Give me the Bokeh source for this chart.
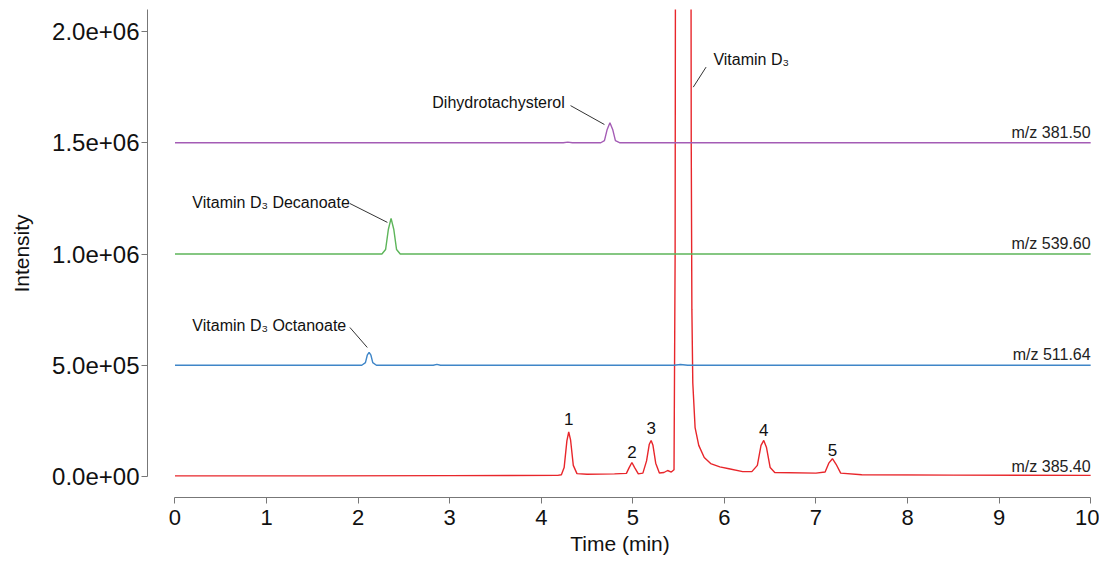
from bokeh.plotting import figure
from bokeh.models import ColumnDataSource, Range1d, FixedTicker
from bokeh.core.properties import value
from bokeh.embed import file_html
from bokeh.resources import INLINE

FONT = "Liberation Sans"

# ---- data ----
# m/z 385.40 (red, baseline 0)
red_t = [0.0, 1.5, 3.0, 4.18, 4.22, 4.25, 4.28, 4.30, 4.32, 4.35, 4.39, 4.5, 4.8, 4.93, 4.96, 4.99,
         5.02, 5.06, 5.11, 5.15, 5.18, 5.20, 5.22, 5.25, 5.29, 5.34, 5.38, 5.42, 5.45, 5.462, 5.47,
         5.55, 5.63, 5.638, 5.645, 5.655, 5.68, 5.72, 5.78, 5.85, 5.95, 6.05, 6.2, 6.3, 6.36, 6.40,
         6.43, 6.46, 6.50, 6.55, 7.0, 7.1, 7.14, 7.18, 7.22, 7.27, 7.5, 8.5, 10.0]
red_i = [3e3, 3e3, 4e3, 5e3, 8e3, 4e4, 1.6e5, 2.0e5, 1.65e5, 5e4, 1.3e4, 1.0e4, 1.2e4, 1.4e4, 4e4, 6.3e4,
         4e4, 1.2e4, 1.5e4, 7e4, 1.45e5, 1.62e5, 1.4e5, 6e4, 1.6e4, 1.8e4, 2.7e4, 2.0e4, 3e4, 1.0e6, 4e6,
         9e6, 4e6, 1.5e6, 7.5e5, 4.2e5, 2.2e5, 1.4e5, 8.5e4, 5.8e4, 4.3e4, 3.5e4, 2.2e4, 2.2e4, 5e4, 1.4e5,
         1.62e5, 1.3e5, 4e4, 1.8e4, 1.5e4, 2e4, 6e4, 8e4, 5.5e4, 1.5e4, 8e3, 6e3, 5e3]

# m/z 511.64 (blue, baseline 5e5)
blue_t = [0.0, 2.04, 2.08, 2.10, 2.12, 2.14, 2.16, 2.20, 2.82, 2.86, 2.90, 5.45, 5.52, 5.60, 10.0]
blue_i = [5.0e5, 5.0e5, 5.12e5, 5.45e5, 5.58e5, 5.45e5, 5.12e5, 5.0e5, 5.0e5, 5.04e5, 5.0e5,
          5.0e5, 5.035e5, 5.0e5, 5.0e5]

# m/z 539.60 (green, baseline 1e6)
green_t = [0.0, 2.26, 2.30, 2.33, 2.36, 2.39, 2.42, 2.46, 10.0]
green_i = [1.0e6, 1.0e6, 1.02e6, 1.11e6, 1.16e6, 1.11e6, 1.02e6, 1.0e6, 1.0e6]

# m/z 381.50 (purple, baseline 1.5e6)
purple_t = [0.0, 4.24, 4.29, 4.34, 4.65, 4.69, 4.72, 4.75, 4.78, 4.81, 4.86, 10.0]
purple_i = [1.5e6, 1.5e6, 1.503e6, 1.5e6, 1.5e6, 1.51e6, 1.56e6, 1.59e6, 1.56e6, 1.51e6, 1.5e6, 1.5e6]

trace_colors = ["#e8262b", "#3f86c8", "#5db55a", "#a45cb5"]
trace_labels = ["m/z 385.40", "m/z 511.64", "m/z 539.60", "m/z 381.50"]
trace_baselines = [0.0, 5.0e5, 1.0e6, 1.5e6]

# peak numbers on the red trace
peak_num = ["1", "2", "3", "4", "5"]
peak_num_t = [4.30, 4.99, 5.20, 6.43, 7.18]
peak_num_y = [2.6e5, 1.12e5, 2.16e5, 2.07e5, 1.21e5]

# compound annotations
ann_text = ["Dihydrotachysterol", "Vitamin D\u2083 Decanoate", "Vitamin D\u2083 Octanoate", "Vitamin D\u2083"]
ann_t = [2.81, 0.19, 0.19, 5.88]
ann_y = [1.68e6, 1.23e6, 0.68e6, 1.875e6]
lead_t0 = [4.32, 1.91, 1.91, 5.80]
lead_y0 = [1.667e6, 1.227e6, 0.67e6, 1.84e6]
lead_t1 = [4.69, 2.32, 2.10, 5.66]
lead_y1 = [1.582e6, 1.142e6, 0.58e6, 1.75e6]

x_ticks = [0, 1, 2, 3, 4, 5, 6, 7, 8, 9, 10]
y_ticks = [0.0, 5.0e5, 1.0e6, 1.5e6, 2.0e6]
y_tick_labels = ["0.0e+00", "5.0e+05", "1.0e+06", "1.5e+06", "2.0e+06"]

# ---- figure ----
p = figure(width=1099, height=557, output_backend="svg", toolbar_location=None,
           x_range=Range1d(-0.3, 10.02), y_range=Range1d(-0.0944e6, 2.099e6),
           min_border_left=147, min_border_right=7, min_border_top=9, min_border_bottom=60)
p.outline_line_color = None
p.grid.visible = False
p.background_fill_color = "white"

series = [(red_t, red_i), (blue_t, blue_i), (green_t, green_i), (purple_t, purple_i)]
for (t, i), c in zip(series, trace_colors):
    src = ColumnDataSource(dict(t=t, i=i))
    p.line("t", "i", source=src, line_color=c, line_width=1.4)

# m/z labels at right end
p.text(x=[10.0] * 4, y=[b + 8e3 for b in trace_baselines], text=trace_labels,
       text_align="right", text_baseline="bottom", text_font=value(FONT),
       text_font_size="16px", text_color="#222222")

# peak numbers
p.text(x=peak_num_t, y=peak_num_y, text=peak_num, text_align="center", text_baseline="middle",
       text_font=value(FONT), text_font_size="17px", text_color="#111111")

# annotation leaders + labels
p.segment(x0=lead_t0, y0=lead_y0, x1=lead_t1, y1=lead_y1, line_color="#333333", line_width=1)
p.text(x=ann_t, y=ann_y, text=ann_text, text_align="left", text_baseline="middle",
       text_font=value(FONT), text_font_size="16px", text_color="#111111")

# axes
xa = p.xaxis[0]
xa.ticker = FixedTicker(ticks=x_ticks)
xa.bounds = (0, 10)
xa.axis_label = "Time (min)"
ya = p.yaxis[0]
ya.ticker = FixedTicker(ticks=y_ticks)
ya.major_label_overrides = {t: l for t, l in zip(y_ticks, y_tick_labels)}
ya.bounds = (0, 2.099e6)
ya.axis_label = "Intensity"

for ax in (xa, ya):
    ax.axis_line_color = "#777777"
    ax.axis_line_width = 1
    ax.major_tick_line_color = "#777777"
    ax.major_tick_out = 6
    ax.major_tick_in = 0
    ax.minor_tick_line_color = None
    ax.major_label_text_font = FONT
    ax.major_label_text_color = "#111111"
    ax.axis_label_text_font = FONT
    ax.axis_label_text_font_style = "normal"
    ax.axis_label_text_color = "#111111"

xa.major_label_text_font_size = "22px"
xa.major_label_standoff = 6
xa.axis_label_text_font_size = "21px"
xa.axis_label_standoff = 4
ya.major_label_text_font_size = "24px"
ya.major_label_standoff = 2
ya.axis_label_text_font_size = "21px"
ya.axis_label_standoff = 16

open("out.html", "w").write(file_html(p, INLINE))
